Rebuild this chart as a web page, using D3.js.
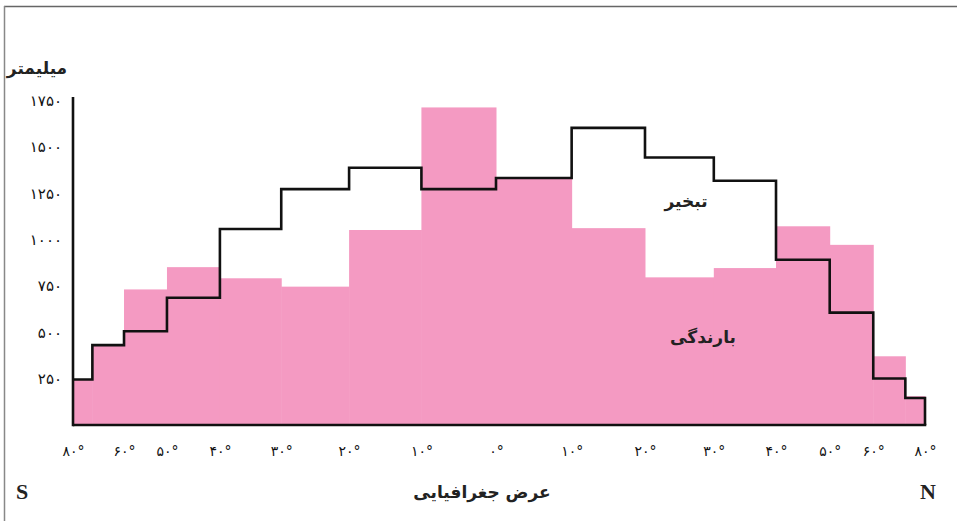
<!DOCTYPE html>
<html>
<head>
<meta charset="utf-8">
<script src="https://cdn.jsdelivr.net/npm/d3@7"></script>
<style>
  html, body { margin: 0; padding: 0; background: #fff; }
  svg { display: block; }
</style>
</head>
<body>
<svg id="chart" width="957" height="521"></svg>
<script>
// ---- data ----
const latEdges = [-80,-70,-60,-50,-40,-30,-20,-10,0,10,20,30,40,50,60,70,80];
const precipitation = [245, 430, 730, 850, 790, 745, 1050, 1710, 1330, 1060, 795, 845, 1070, 970, 370, 155];
const evaporation   = [245, 430, 505, 685, 1055, 1270, 1385, 1270, 1330, 1600, 1440, 1315, 890, 605, 250, 145];
const yTicks = [250, 500, 750, 1000, 1250, 1500, 1750];
const latTicks = [-80,-60,-50,-40,-30,-20,-10,0,10,20,30,40,50,60,80];

const yTitle = "میلیمتر";
const xTitle = "عرض جغرافیایی";
const evapLabel = "تبخیر";
const precipLabel = "بارندگی";

// ---- helpers ----
const fa = s => String(s).replace(/\d/g, d => "۰۱۲۳۴۵۶۷۸۹"[d]);
const sinDeg = d => Math.sin(d * Math.PI / 180);

const svg = d3.select("#chart");
const W = 957, H = 521;

// area-proportional (sine of latitude) x scale
const xs = d3.scaleLinear().domain([sinDeg(-80), 0, sinDeg(80)]).range([73, 496, 925]);
const x = lat => xs(sinDeg(lat));
const y = d3.scaleLinear().domain([0, 1750]).range([425, 100]);

const bins = precipitation.map((p, i) => ({lo: latEdges[i], hi: latEdges[i+1], p, e: evaporation[i]}));

// frame
svg.append("line").attr("x1", 4).attr("x2", W).attr("y1", 6.5).attr("y2", 6.5)
  .attr("stroke", "#666").attr("stroke-width", 1.5);
svg.append("line").attr("x1", 4.5).attr("x2", 4.5).attr("y1", 6).attr("y2", H)
  .attr("stroke", "#888").attr("stroke-width", 1.5);

// precipitation bars
svg.append("g").selectAll("rect").data(bins).join("rect")
  .attr("x", d => x(d.lo))
  .attr("width", d => x(d.hi) - x(d.lo) + 0.5)
  .attr("y", d => y(d.p))
  .attr("height", d => y(0) - y(d.p))
  .attr("fill", "#F49AC2");

// evaporation step line
const pts = [];
bins.forEach(d => { pts.push([x(d.lo), y(d.e)]); pts.push([x(d.hi), y(d.e)]); });
pts.push([x(latEdges[latEdges.length-1]), y(0)]);
svg.append("path").attr("d", d3.line()(pts))
  .attr("fill", "none").attr("stroke", "#111").attr("stroke-width", 2.6)
  .attr("stroke-linejoin", "miter");

// axes lines
svg.append("line").attr("x1", x(-80)).attr("x2", x(80) + 1.3).attr("y1", y(0)).attr("y2", y(0))
  .attr("stroke", "#111").attr("stroke-width", 2.6);
svg.append("line").attr("x1", x(-80)).attr("x2", x(-80)).attr("y1", y(0) + 1.3).attr("y2", y(1750) - 3)
  .attr("stroke", "#111").attr("stroke-width", 2.6);

// y axis labels
const yAxis = svg.append("g").attr("transform", `translate(${x(-80)},0)`)
  .call(d3.axisLeft(y).tickValues(yTicks).tickSize(0).tickPadding(11).tickFormat(d => fa(d)));
yAxis.select(".domain").remove();
yAxis.selectAll("text").attr("font-family", "DejaVu Sans, sans-serif").attr("font-size", 15)
  .attr("fill", "#111").attr("dy", "0.35em");

// x axis labels
const xAxis = svg.append("g").attr("transform", `translate(0,${y(0)})`)
  .call(d3.axisBottom(xs).tickValues(latTicks.map(sinDeg)).tickSize(0).tickPadding(21)
    .tickFormat((d, i) => fa(Math.abs(latTicks[i]) + "") + "°"));
xAxis.select(".domain").remove();
xAxis.selectAll("text").attr("font-family", "DejaVu Sans, sans-serif").attr("font-size", 14)
  .attr("fill", "#111");

// titles
svg.append("text").attr("x", 37).attr("y", 74).attr("text-anchor", "middle")
  .attr("font-family", "DejaVu Sans, sans-serif").attr("font-weight", "bold").attr("font-size", 17)
  .attr("fill", "#222").attr("direction", "rtl").text(yTitle);
svg.append("text").attr("x", 482).attr("y", 498).attr("text-anchor", "middle")
  .attr("font-family", "DejaVu Sans, sans-serif").attr("font-weight", "bold").attr("font-size", 17)
  .attr("fill", "#222").attr("direction", "rtl").text(xTitle);
svg.append("text").attr("x", 22).attr("y", 499).attr("text-anchor", "middle")
  .attr("font-family", "Liberation Serif, serif").attr("font-weight", "bold").attr("font-size", 22)
  .attr("fill", "#222").text("S");
svg.append("text").attr("x", 928).attr("y", 499).attr("text-anchor", "middle")
  .attr("font-family", "Liberation Serif, serif").attr("font-weight", "bold").attr("font-size", 22)
  .attr("fill", "#222").text("N");

// series labels
svg.append("text").attr("x", 686).attr("y", 207).attr("text-anchor", "middle")
  .attr("font-family", "DejaVu Sans, sans-serif").attr("font-weight", "bold").attr("font-size", 17)
  .attr("fill", "#222").attr("direction", "rtl").text(evapLabel);
svg.append("text").attr("x", 703).attr("y", 343).attr("text-anchor", "middle")
  .attr("font-family", "DejaVu Sans, sans-serif").attr("font-weight", "bold").attr("font-size", 17)
  .attr("fill", "#222").attr("direction", "rtl").text(precipLabel);
</script>
</body>
</html>
